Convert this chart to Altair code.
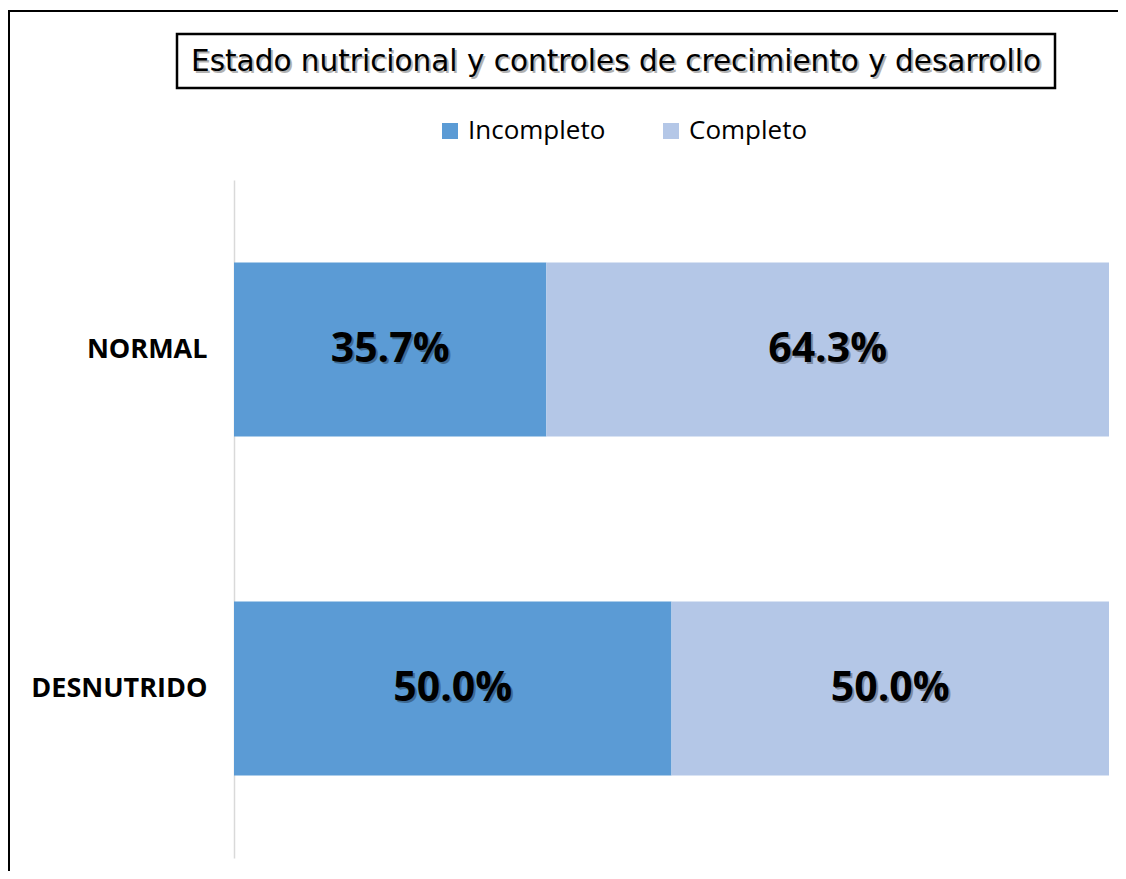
import altair as alt
import pandas as pd

categories = ["NORMAL", "NORMAL", "DESNUTRIDO", "DESNUTRIDO"]
series = ["Incompleto", "Completo", "Incompleto", "Completo"]
order = [0, 1, 0, 1]
values = [0.357, 0.643, 0.500, 0.500]
cat_order = ["NORMAL", "DESNUTRIDO"]
series_order = ["Incompleto", "Completo"]
colors = ["#5B9BD5", "#B4C7E7"]
title_text = "Estado nutricional y controles de crecimiento y desarrollo"

df = pd.DataFrame({"cat": categories, "serie": series, "ord": order, "val": values})

W, H = 875, 678
PR, PB = 9, 13

yscale = alt.Scale(domain=cat_order, paddingInner=0.487, paddingOuter=0.2435)
xscale = alt.Scale(domain=[0, 1], nice=False, zero=True)

base = alt.Chart(df).transform_stack(
    stack="val", groupby=["cat"], as_=["x0", "x1"], sort=[alt.SortField("ord", order="ascending")]
).transform_calculate(mid="(datum.x0 + datum.x1) / 2")

bars = base.mark_bar().encode(
    y=alt.Y("cat:N", scale=yscale, sort=cat_order,
            axis=alt.Axis(title=None, ticks=False, grid=False, domain=True, domainColor="#D9D9D9",
                          domainWidth=1.5, labelFont="Open Sans", labelFontWeight="bold",
                          labelFontSize=27, labelColor="#000000", labelPadding=27)),
    x=alt.X("x0:Q", scale=xscale, axis=None),
    x2="x1:Q",
    color=alt.Color("serie:N", scale=alt.Scale(domain=series_order, range=colors),
                    legend=alt.Legend(title=None, orient="none", legendX=203, legendY=-62,
                                      direction="horizontal", symbolType="square", symbolSize=256,
                                      symbolStrokeWidth=0, labelFont="Open Sans", labelFontSize=26,
                                      labelColor="#000000", labelOffset=5, columnPadding=52)),
)

shadow = base.mark_text(font="Open Sans", fontWeight="bold", fontSize=41, color="#000000",
                        opacity=0.3, dx=2, dy=2).encode(
    y=alt.Y("cat:N", scale=yscale, sort=cat_order),
    x=alt.X("mid:Q", scale=xscale),
    text=alt.Text("val:Q", format=".1%"),
)
labels = base.mark_text(font="Open Sans", fontWeight="bold", fontSize=41, color="#000000").encode(
    y=alt.Y("cat:N", scale=yscale, sort=cat_order),
    x=alt.X("mid:Q", scale=xscale),
    text=alt.Text("val:Q", format=".1%"),
)

tdf = pd.DataFrame({"t": [title_text]})
title_box = alt.Chart(tdf).mark_rect(fill="white", stroke="#000000", strokeWidth=2.5).encode(
    x=alt.value(-57), x2=alt.value(821), y=alt.value(-146), y2=alt.value(-92)
)
title_shadow = alt.Chart(tdf).mark_text(font="DejaVu Sans", fontSize=29.5, color="#000000",
                                        opacity=0.3, dx=2, dy=2).encode(
    x=alt.value(382), y=alt.value(-118), text="t:N"
)
title = alt.Chart(tdf).mark_text(font="DejaVu Sans", fontSize=29.5, color="#000000").encode(
    x=alt.value(382), y=alt.value(-118), text="t:N"
)
border_top = alt.Chart(tdf).mark_rule(color="#000000", strokeWidth=2).encode(
    x=alt.value(-225), x2=alt.value(W + PR), y=alt.value(-169)
)
border_left = alt.Chart(tdf).mark_rule(color="#000000", strokeWidth=2).encode(
    x=alt.value(-225), y=alt.value(-170), y2=alt.value(H + PB)
)

chart = alt.layer(border_top, border_left, title_box, title_shadow, title, bars, shadow, labels).properties(
    width=W, height=H,
    autosize=alt.AutoSizeParams(type="none"),
    padding={"left": 226, "top": 172, "right": PR, "bottom": PB},
    background="white",
).configure_view(stroke=None)

chart.save("out.html", embed_options={"renderer": "svg", "actions": False})
